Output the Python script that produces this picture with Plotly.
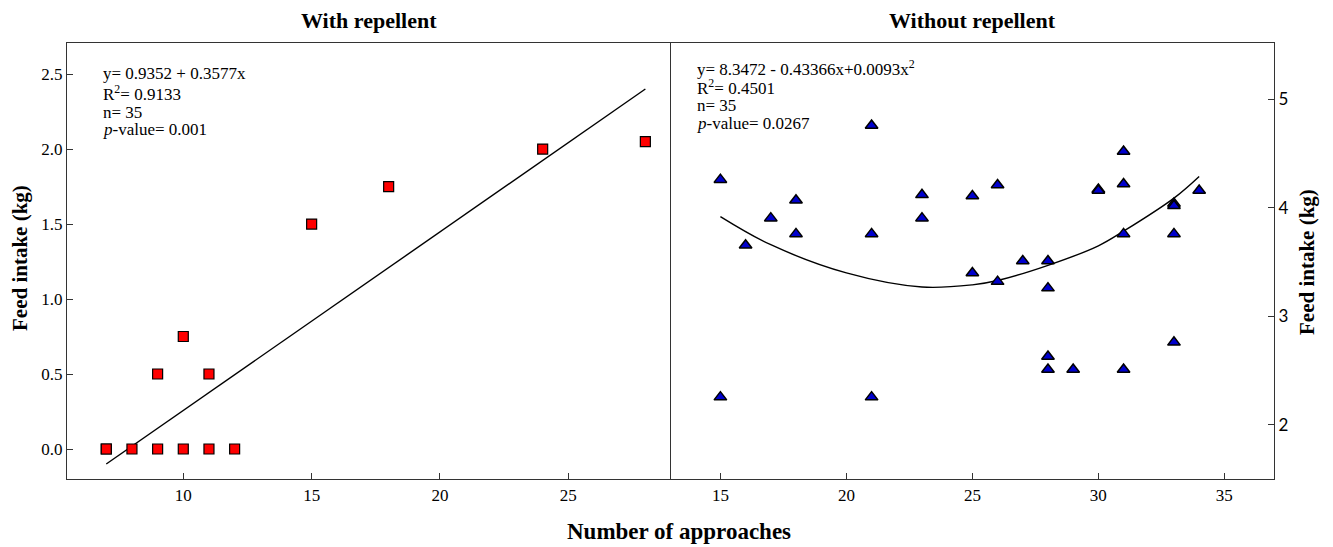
import plotly.graph_objects as go

# ---- data: With repellent ----
with_x = [7, 7, 8, 9, 10, 11, 12, 9, 10, 11, 15, 18, 24, 28]
with_y = [0, 0, 0, 0, 0, 0, 0, 0.5, 0.75, 0.5, 1.5, 1.75, 2.0, 2.05]
with_fit_x = [7, 28]
with_fit_y = [-0.1, 2.40]

# ---- data: Without repellent ----
without_x = [15, 15, 16, 17, 18, 18, 21, 21, 21, 23, 23, 25, 25, 26, 26, 27,
             28, 28, 28, 28, 29, 30, 30, 31, 31, 31, 31, 33, 33, 33, 33, 34]
without_y = [4.26, 2.255, 3.656, 3.905, 4.07, 3.76, 4.76, 3.76, 2.255, 4.12, 3.905,
             4.11, 3.40, 4.21, 3.32, 3.51, 3.51, 3.26, 2.63, 2.51, 2.51, 4.17, 4.16,
             4.52, 4.22, 3.76, 2.51, 4.04, 4.02, 3.76, 2.76, 4.16]
without_fit_x = [15, 17, 20, 23, 25, 26, 28, 30, 31, 33, 34]
without_fit_y = [3.92, 3.66, 3.40, 3.27, 3.29, 3.33, 3.47, 3.65, 3.785, 4.09, 4.29]

left_x_ticks = [10, 15, 20, 25]
left_y_ticks = [0.0, 0.5, 1.0, 1.5, 2.0, 2.5]
right_x_ticks = [15, 20, 25, 30, 35]
right_y_ticks = [2, 3, 4, 5]

titles = ["With repellent", "Without repellent"]
x_title = "Number of approaches"
y_title = "Feed intake (kg)"
left_stats = ["y= 0.9352 + 0.3577x", "R<sup>2</sup>= 0.9133", "n= 35", "<i>p</i>-value= 0.001"]
right_stats = ["y= 8.3472 - 0.43366x+0.0093x<sup>2</sup>", "R<sup>2</sup>= 0.4501", "n= 35",
               "<i>p</i>-value= 0.0267"]

SERIF = "Liberation Serif, Times New Roman, serif"
SANS = "Lato, Open Sans, sans-serif"

OFF = 8  # page body margin
W, H = 1333 - OFF, 547 - OFF
# target plot area on screen: left 67, right 1274, top 43, bottom 479
ML = 67 - OFF
MT = 43 - OFF
MR = W - (1274 - OFF)
MB = H - (479 - OFF)
PW = W - ML - MR
PH = H - MT - MB
split = (670 - 67) / PW


def px_x(p):
    return (p - 67) / PW


def px_y(p):
    return (479 - p) / PH


fig = go.Figure()

fig.add_trace(go.Scatter(x=with_fit_x, y=with_fit_y, mode="lines",
                         line=dict(color="black", width=1.4), xaxis="x", yaxis="y",
                         showlegend=False, hoverinfo="skip"))
fig.add_trace(go.Scatter(x=with_x, y=with_y, mode="markers",
                         marker=dict(symbol="square", size=10, color="#ff0000",
                                     line=dict(color="black", width=1.2)),
                         xaxis="x", yaxis="y", showlegend=False))

fig.add_trace(go.Scatter(x=without_fit_x, y=without_fit_y, mode="lines",
                         line=dict(color="black", width=1.4, shape="spline"),
                         xaxis="x2", yaxis="y2", showlegend=False, hoverinfo="skip"))
fig.add_trace(go.Scatter(x=without_x, y=without_y, mode="markers",
                         marker=dict(symbol="triangle-up", size=11, color="#0000cd",
                                     line=dict(color="black", width=1.5)),
                         xaxis="x2", yaxis="y2", showlegend=False))

axis_common = dict(showline=True, linecolor="#333333", linewidth=1.3,
                   ticks="inside", ticklen=6, tickcolor="#333333", tickwidth=1,
                   showgrid=False, zeroline=False, automargin=False)

fig.update_layout(
    width=W, height=H,
    margin=dict(l=ML, r=MR, t=MT, b=MB),
    paper_bgcolor="white", plot_bgcolor="white",
    xaxis=dict(domain=[0, split], range=[5.47, 28.96], tickvals=left_x_ticks, mirror=True,
               tickfont=dict(family=SERIF, size=17, color="black"), anchor="y", **axis_common),
    yaxis=dict(domain=[0, 1], range=[-0.2, 2.707], tickvals=left_y_ticks, tickformat=".1f",
               mirror=True,
               tickfont=dict(family=SERIF, size=17, color="black"), anchor="x", **axis_common),
    xaxis2=dict(domain=[split, 1], range=[13.0, 36.97], tickvals=right_x_ticks, mirror=True,
                tickfont=dict(family=SERIF, size=17, color="black"), anchor="y2", **axis_common),
    yaxis2=dict(domain=[0, 1], range=[1.5, 5.52], tickvals=right_y_ticks, side="right",
                mirror=False,
                tickfont=dict(family=SANS, size=17, color="black"), anchor="x2", **axis_common),
)

ann = []
ann.append(dict(text="<b>%s</b>" % titles[0], x=px_x(369), y=px_y(20), xref="paper", yref="paper",
                showarrow=False, xanchor="center", yanchor="middle",
                font=dict(family=SERIF, size=22, color="black")))
ann.append(dict(text="<b>%s</b>" % titles[1], x=px_x(972), y=px_y(20), xref="paper", yref="paper",
                showarrow=False, xanchor="center", yanchor="middle",
                font=dict(family=SERIF, size=22, color="black")))
ann.append(dict(text="<b>%s</b>" % x_title, x=px_x(679), y=px_y(531), xref="paper", yref="paper",
                showarrow=False, xanchor="center", yanchor="middle",
                font=dict(family=SERIF, size=23, color="black")))
ann.append(dict(text="<b>%s</b>" % y_title, x=px_x(20), y=px_y(258), xref="paper", yref="paper",
                showarrow=False, xanchor="center", yanchor="middle", textangle=-90,
                font=dict(family=SERIF, size=21, color="black")))
ann.append(dict(text="<b>%s</b>" % y_title, x=px_x(1307), y=px_y(262), xref="paper", yref="paper",
                showarrow=False, xanchor="center", yanchor="middle", textangle=-90,
                font=dict(family=SERIF, size=21, color="black")))

left_ys = [73, 93, 112, 130]
right_ys = [68, 87, 105, 123]
for t, yy in zip(left_stats, left_ys):
    ann.append(dict(text=t, x=px_x(101), y=px_y(yy), xref="paper", yref="paper", showarrow=False,
                    xanchor="left", yanchor="middle", font=dict(family=SERIF, size=17, color="black")))
for t, yy in zip(right_stats, right_ys):
    ann.append(dict(text=t, x=px_x(695), y=px_y(yy), xref="paper", yref="paper", showarrow=False,
                    xanchor="left", yanchor="middle", font=dict(family=SERIF, size=17, color="black")))

fig.update_layout(annotations=ann)
fig.write_html("out.html")
